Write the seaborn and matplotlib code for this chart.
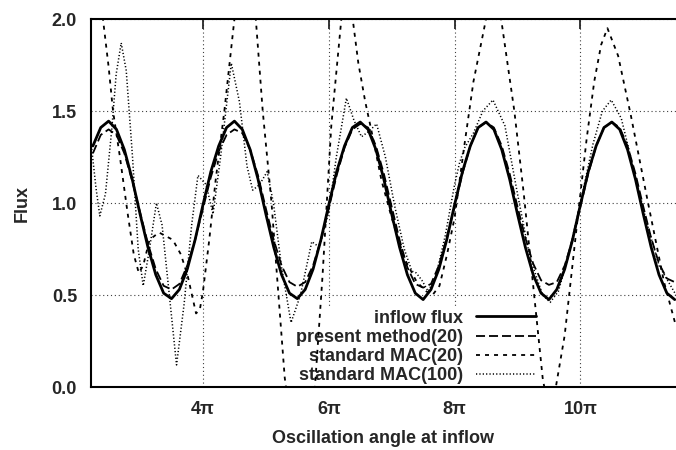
import numpy as np
import matplotlib
matplotlib.use("Agg")
import matplotlib.pyplot as plt
import seaborn as sns

# angle in units of pi, sampled every pi/8
theta = np.arange(2.25, 11.501, 0.125)

inflow = [1.31, 1.41, 1.445, 1.40, 1.29, 1.13, 0.94, 0.76, 0.61, 0.51, 0.48, 0.53, 0.64, 0.80,
          0.99, 1.17, 1.31, 1.41, 1.445, 1.40, 1.29, 1.13, 0.94, 0.76, 0.61, 0.51, 0.48, 0.53, 0.64, 0.80,
          0.99, 1.17, 1.31, 1.41, 1.44, 1.40, 1.29, 1.13, 0.94, 0.76, 0.61, 0.51, 0.475, 0.53, 0.64, 0.80,
          0.99, 1.17, 1.31, 1.41, 1.44, 1.40, 1.29, 1.13, 0.94, 0.76, 0.61, 0.51, 0.475, 0.53, 0.64, 0.80,
          0.99, 1.17, 1.31, 1.41, 1.44, 1.40, 1.29, 1.13, 0.94, 0.76, 0.61, 0.51, 0.475]

present = [1.27, 1.37, 1.40, 1.37, 1.27, 1.12, 0.95, 0.78, 0.64, 0.55, 0.53, 0.56, 0.66, 0.80,
           0.97, 1.14, 1.28, 1.37, 1.40, 1.38, 1.29, 1.15, 0.97, 0.80, 0.66, 0.57, 0.545, 0.57, 0.66, 0.80,
           0.97, 1.15, 1.30, 1.40, 1.43, 1.41, 1.31, 1.16, 0.98, 0.80, 0.65, 0.56, 0.54, 0.56, 0.66, 0.81,
           0.98, 1.16, 1.31, 1.41, 1.44, 1.41, 1.31, 1.16, 0.98, 0.81, 0.67, 0.58, 0.555, 0.57, 0.66, 0.80,
           0.98, 1.16, 1.31, 1.41, 1.44, 1.41, 1.31, 1.16, 0.98, 0.81, 0.67, 0.59, 0.57]

mac20_theta = [2.22, 2.30, 2.41, 2.50, 2.57, 2.68, 2.80, 2.90, 2.98, 3.05, 3.15, 3.30, 3.52, 3.65,
               3.76, 3.89, 3.95, 4.00, 4.10, 4.20, 4.34, 4.50, 4.67, 4.84, 4.95, 5.09, 5.20, 5.30,
               5.42, 5.54, 5.66, 5.78, 5.90, 6.04, 6.20, 6.30, 6.38, 6.47, 6.58, 6.68, 6.84, 7.00,
               7.20, 7.40, 7.55, 7.65, 7.76, 7.88, 8.00, 8.15, 8.30, 8.50, 8.62, 8.74, 8.95, 9.10,
               9.25, 9.40, 9.52, 9.61, 9.75, 9.87, 9.98, 10.10, 10.22, 10.33, 10.43, 10.60, 10.80,
               11.07, 11.33, 11.52]
mac20 = [2.35, 2.22, 2.00, 1.74, 1.50, 1.25, 0.95, 0.72, 0.62, 0.66, 0.80, 0.84, 0.80, 0.72,
         0.60, 0.40, 0.42, 0.52, 0.80, 1.12, 1.50, 2.00, 2.30, 2.00, 1.50, 1.00, 0.50, 0.05,
         -0.25, -0.35, -0.25, 0.00, 0.60, 1.42, 2.00, 2.10, 2.00, 1.76, 1.55, 1.39, 1.12, 0.92,
         0.70, 0.57, 0.52, 0.50, 0.55, 0.72, 0.92, 1.30, 1.66, 2.00, 2.15, 2.00, 1.50, 1.05,
         0.55, 0.05, -0.18, 0.00, 0.28, 0.65, 0.99, 1.35, 1.66, 1.86, 1.95, 1.80, 1.48,
         1.01, 0.57, 0.33]

mac100_theta = [2.22, 2.30, 2.36, 2.45, 2.55, 2.62, 2.70, 2.78, 2.88, 2.97, 3.05, 3.15, 3.26, 3.35,
                3.45, 3.58, 3.70, 3.82, 3.92, 4.05, 4.16, 4.28, 4.45, 4.58, 4.70, 4.79, 4.90, 5.02,
                5.12, 5.25, 5.40, 5.55, 5.73, 5.85, 6.00, 6.12, 6.28, 6.40, 6.52, 6.64, 6.76, 6.90,
                7.05, 7.20, 7.32, 7.39, 7.48, 7.58, 7.70, 7.85, 8.00, 8.08, 8.16, 8.30, 8.45, 8.61,
                8.80, 9.00, 9.20, 9.40, 9.52, 9.65, 9.80, 10.00, 10.20, 10.35, 10.49, 10.65, 10.85,
                11.05, 11.25, 11.52]
mac100 = [1.33, 1.08, 0.93, 1.05, 1.40, 1.70, 1.87, 1.72, 1.25, 0.75, 0.55, 0.75, 1.00, 0.88,
          0.55, 0.12, 0.45, 0.88, 1.15, 1.10, 0.94, 1.25, 1.76, 1.55, 1.20, 1.07, 1.10, 1.17,
          1.00, 0.65, 0.35, 0.50, 0.79, 0.76, 0.95, 1.25, 1.57, 1.45, 1.36, 1.39, 1.43, 1.25,
          0.98, 0.75, 0.63, 0.62, 0.58, 0.52, 0.60, 0.82, 1.10, 1.22, 1.30, 1.38, 1.50, 1.56,
          1.42, 1.05, 0.70, 0.50, 0.46, 0.52, 0.70, 1.00, 1.32, 1.50, 1.56, 1.46, 1.18,
          0.90, 0.66, 0.50]

labels = ["inflow flux", "present method(20)", "standard MAC(20)", "standard MAC(100)"]

sns.set_style("white")
plt.rcParams["font.family"] = ["Liberation Sans", "DejaVu Sans"]
plt.rcParams["font.size"] = 13
plt.rcParams["font.weight"] = "bold"

fig = plt.figure(figsize=(6.76, 4.5), dpi=100)
ax = fig.add_axes([91 / 676, 63 / 450, 585 / 676, 368 / 450])

sns.lineplot(x=theta, y=inflow, ax=ax, color="black", lw=2.0, label=labels[0])
sns.lineplot(x=theta, y=present, ax=ax, color="black", lw=1.3,
             linestyle=(0, (5, 2.2)), label=labels[1])
sns.lineplot(x=mac20_theta, y=mac20, ax=ax, color="black", lw=1.3,
             linestyle=(0, (2.2, 2.8)), label=labels[2])
sns.lineplot(x=mac100_theta, y=mac100, ax=ax, color="black", lw=1.1,
             linestyle=(0, (0.8, 1.4)), label=labels[3])

ax.set_xlim(2.22, 11.52)
ax.set_ylim(0, 2)
ax.set_xticks([4, 6, 8, 10])
ax.set_xticklabels(["4π", "6π", "8π", "10π"])
ax.set_yticks([0, 0.5, 1.0, 1.5, 2.0])
ax.set_yticklabels(["0.0", "0.5", "1.0", "1.5", "2.0"])
ax.set_xlabel("Oscillation angle at inflow", labelpad=9, fontweight="bold")
ax.set_ylabel("Flux", labelpad=15, fontweight="bold")

ax.set_axisbelow(True)
ax.grid(True, color="0.25", lw=0.8, linestyle=(0, (1, 2.5)))
ax.tick_params(direction="in", length=7, width=1.3, top=True, right=False, pad=10)
ax.spines["right"].set_visible(False)
for side in ["left", "bottom", "top"]:
    ax.spines[side].set_linewidth(1.5)
    ax.spines[side].set_color("black")

leg = ax.legend(loc="lower right", bbox_to_anchor=(0.765, 0.0), markerfirst=False,
                frameon=True, facecolor="white", edgecolor="none", framealpha=1,
                prop={"size": 13, "weight": "bold"}, handlelength=3.3, handletextpad=0.75,
                labelspacing=0.12, borderpad=0.15, borderaxespad=0)
leg.set_zorder(1.5)
leg._legend_box.align = "right"

fig.savefig("out.png", dpi=100)
